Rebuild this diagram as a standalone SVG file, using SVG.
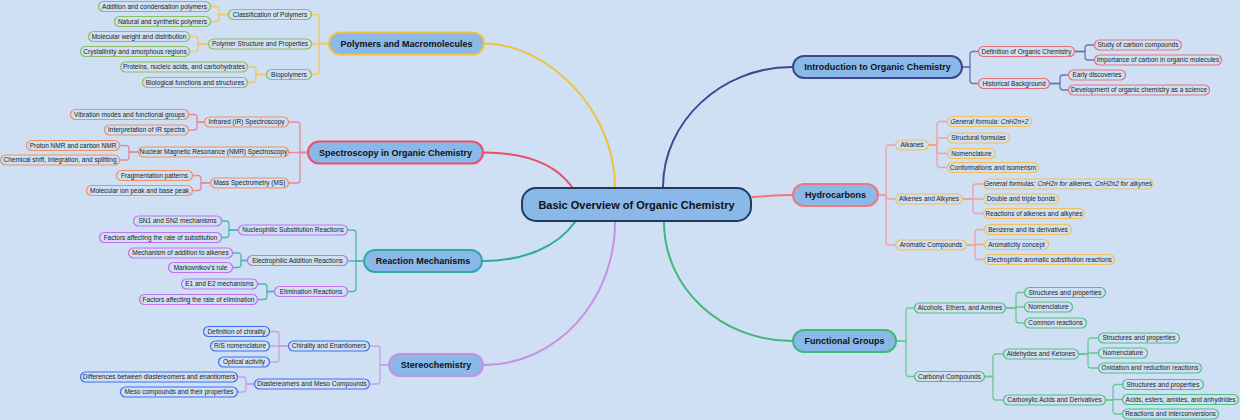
<svg xmlns="http://www.w3.org/2000/svg" width="1240" height="420" viewBox="0 0 1240 420">
<style>
.bg{fill:#cfe0f4}
.c0{fill:#8ab8e8;stroke:#1f3b5e;stroke-width:2}
.m{fill:#8ab8e8;stroke-width:2}
.s{fill:#cfe0f4;stroke-width:1.2}
.t0{font-family:"Liberation Sans",Arial,sans-serif;font-size:11px;font-weight:bold;fill:#111;text-anchor:middle}
.tm{font-family:"Liberation Sans",Arial,sans-serif;font-size:9px;font-weight:bold;fill:#111;text-anchor:middle}
.ts{font-family:"Liberation Sans",Arial,sans-serif;font-size:6.5px;fill:#222;text-anchor:middle}
.it{font-style:italic}
.l{fill:none;stroke-linecap:round}
.lm{stroke-width:2}
.lk{stroke-width:1.3}
.intro{stroke:#e8707a}.hydro{stroke:#f0c060}.fg{stroke:#50c080}.poly{stroke:#8cc060}.spec{stroke:#f09060}.reac{stroke:#c070f0}.ster{stroke:#3f6ff0}
</style>
<rect class="bg" x="0" y="0" width="1240" height="420"/>
<g id="connectors">
<path class="l lm" stroke="#3b4a8e" d="M663 187C663 122 721 67 792 67"/>
<path class="l lm" stroke="#f07878" d="M752 197C770 196 780 195 792 195"/>
<path class="l lm" stroke="#40b878" d="M664 222C664 288 721 341 792 341"/>
<path class="l lm" stroke="#f2c040" d="M615 187C615 108 545 43.5 485 43.5"/>
<path class="l lm" stroke="#e8506a" d="M572 187C555 163 525 152.5 484 152.5"/>
<path class="l lm" stroke="#30a8a8" d="M575 222C558 246 525 261 483 261"/>
<path class="l lm" stroke="#c890e0" d="M615 222C615 301 556 365 484 365"/>
<g class="l lk" stroke="#6b74b4">
<path d="M963 67H970V54.5Q970 51.5 973 51.5H978"/>
<path d="M963 67H970V80.5Q970 83.5 973 83.5H978"/>
<path d="M1075 51.5H1085V48Q1085 45 1088 45H1094"/>
<path d="M1075 51.5H1085V57Q1085 60 1088 60H1094"/>
<path d="M1050 83.5H1060V78Q1060 75 1063 75H1068"/>
<path d="M1050 83.5H1060V87Q1060 90 1063 90H1068"/>
</g>
<g class="l lk" stroke="#f4a0a0">
<path d="M879 195H886V148Q886 145 889 145H895"/>
<path d="M879 195H886V196Q886 199 889 199H895"/>
<path d="M879 195H886V242Q886 245 889 245H895"/>
<path d="M929 145H937V124.5Q937 121.5 940 121.5H947"/>
<path d="M929 145H937V141Q937 138 940 138H947"/>
<path d="M929 145H937V150.5Q937 153.5 940 153.5H947"/>
<path d="M929 145H937V164.5Q937 167.5 940 167.5H947"/>
<path d="M963 199H973V187Q973 184 976 184H983"/>
<path d="M963 199H983"/>
<path d="M963 199H973V210.5Q973 213.5 976 213.5H983"/>
<path d="M967 245H975V232.5Q975 229.5 978 229.5H984"/>
<path d="M967 245H975V244.5H984"/>
<path d="M967 245H975V256.5Q975 259.5 978 259.5H984"/>
</g>
<g class="l lk" stroke="#6cc894">
<path d="M897 341H906V311Q906 308 909 308H914"/>
<path d="M897 341H906V373.5Q906 376.5 909 376.5H914"/>
<path d="M1006 308H1016V295.5Q1016 292.5 1019 292.5H1024"/>
<path d="M1006 308H1016V307H1024"/>
<path d="M1006 308H1016V320Q1016 323 1019 323H1024"/>
<path d="M985 376.5H993V357Q993 354 996 354H1003"/>
<path d="M985 376.5H993V397Q993 400 996 400H1003"/>
<path d="M1079 354H1088V341Q1088 338 1091 338H1098"/>
<path d="M1079 354H1088V353H1098"/>
<path d="M1079 354H1088V365Q1088 368 1091 368H1098"/>
<path d="M1106 400H1113V387.5Q1113 384.5 1116 384.5H1122"/>
<path d="M1106 400H1113V399.5H1122"/>
<path d="M1106 400H1113V411Q1113 414 1116 414H1122"/>
</g>
<g class="l lk" stroke="#f2c860">
<path d="M328 43.5H319V17.5Q319 14.5 316 14.5H312"/>
<path d="M328 43.5H319V44H312"/>
<path d="M328 43.5H319V71.5Q319 74.5 316 74.5H312"/>
<path d="M228 14.5H219V9.5Q219 6.5 216 6.5H211"/>
<path d="M228 14.5H219V18.5Q219 21.5 216 21.5H211"/>
<path d="M208 44H198V39.5Q198 36.5 195 36.5H190"/>
<path d="M208 44H198V48.5Q198 51.5 195 51.5H190"/>
<path d="M266 74.5H256V70Q256 67 253 67H248"/>
<path d="M266 74.5H256V79.5Q256 82.5 253 82.5H248"/>
</g>
<g class="l lk" stroke="#e8889a">
<path d="M307 152.5H300V125Q300 122 297 122H289"/>
<path d="M307 152.5H289"/>
<path d="M307 152.5H300V180Q300 183 297 183H289"/>
<path d="M204 122H197V117.5Q197 114.5 194 114.5H189"/>
<path d="M204 122H197V127Q197 130 194 130H189"/>
<path d="M138 152H129V148.5Q129 145.5 126 145.5H120"/>
<path d="M138 152H129V157Q129 160 126 160H120"/>
<path d="M210 183H201V178.5Q201 175.5 198 175.5H193"/>
<path d="M210 183H201V187.5Q201 190.5 198 190.5H193"/>
</g>
<g class="l lk" stroke="#4db8b0">
<path d="M363 261H356V233Q356 230 353 230H348"/>
<path d="M363 261H348"/>
<path d="M363 261H356V288.5Q356 291.5 353 291.5H348"/>
<path d="M238 230H229V224Q229 221 226 221H222"/>
<path d="M238 230H229V234.5Q229 237.5 226 237.5H222"/>
<path d="M247 260.5H241V256Q241 253 238 253H233"/>
<path d="M247 260.5H241V264.5Q241 267.5 238 267.5H233"/>
<path d="M274 291.5H267V287Q267 284 264 284H258"/>
<path d="M274 291.5H267V296.5Q267 299.5 264 299.5H258"/>
</g>
<g class="l lk" stroke="#c8a0e0">
<path d="M388 365H380V349Q380 346 377 346H370"/>
<path d="M388 365H380V381Q380 384 377 384H370"/>
<path d="M288 346H279V334.5Q279 331.5 276 331.5H270"/>
<path d="M288 346H270"/>
<path d="M288 346H279V359Q279 362 276 362H270"/>
<path d="M254 384H246V380Q246 377 243 377H238"/>
<path d="M254 384H246V389Q246 392 243 392H238"/>
</g>
</g>
<g id="root"><rect class="c0" x="522" y="188" width="229" height="33" rx="14"/><text class="t0" x="636.5" y="208.5">Basic Overview of Organic Chemistry</text></g>
<g id="n-intro"><rect class="m" stroke="#3b4a8e" x="793" y="56" width="169" height="22" rx="11"/><text class="tm" x="877.5" y="70.2">Introduction to Organic Chemistry</text></g>
<g id="n-hydro"><rect class="m" stroke="#f07878" x="793" y="184" width="85" height="22" rx="11"/><text class="tm" x="835.5" y="198.2">Hydrocarbons</text></g>
<g id="n-fg"><rect class="m" stroke="#40b878" x="793" y="330" width="103" height="22" rx="11"/><text class="tm" x="844.5" y="344.2">Functional Groups</text></g>
<g id="n-poly"><rect class="m" stroke="#f2c040" x="329" y="32.5" width="155" height="22" rx="11"/><text class="tm" x="406.5" y="46.7">Polymers and Macromolecules</text></g>
<g id="n-spec"><rect class="m" stroke="#e8506a" x="308" y="141.5" width="175" height="22" rx="11"/><text class="tm" x="395.5" y="155.7">Spectroscopy in Organic Chemistry</text></g>
<g id="n-reac"><rect class="m" stroke="#30a8a8" x="364" y="250" width="118" height="22" rx="11"/><text class="tm" x="423" y="264.2">Reaction Mechanisms</text></g>
<g id="n-ster"><rect class="m" stroke="#c890e0" x="389" y="354" width="94" height="22" rx="11"/><text class="tm" x="436" y="368.2">Stereochemistry</text></g>
<g id="intro-def"><rect class="s intro" x="978.5" y="46.5" width="96" height="10" rx="5"/><text class="ts" x="1026.5" y="53.7">Definition of Organic Chemistry</text></g>
<g id="intro-hist"><rect class="s intro" x="978.5" y="78.5" width="71" height="10" rx="5"/><text class="ts" x="1014" y="85.7">Historical Background</text></g>
<g id="intro-def-1"><rect class="s intro" x="1094.5" y="40" width="87" height="10" rx="5"/><text class="ts" x="1138" y="47.2">Study of carbon compounds</text></g>
<g id="intro-def-2"><rect class="s intro" x="1094.5" y="55" width="127" height="10" rx="5"/><text class="ts" x="1158" y="62.2">Importance of carbon in organic molecules</text></g>
<g id="intro-hist-1"><rect class="s intro" x="1068.5" y="70" width="57" height="10" rx="5"/><text class="ts" x="1097" y="77.2">Early discoveries</text></g>
<g id="intro-hist-2"><rect class="s intro" x="1068.5" y="85" width="141" height="10" rx="5"/><text class="ts" x="1139" y="92.2">Development of organic chemistry as a science</text></g>
<g id="hydro-alkanes"><rect class="s hydro" x="895.5" y="140" width="33" height="10" rx="5"/><text class="ts" x="912" y="147.2">Alkanes</text></g>
<g id="hydro-alkenes"><rect class="s hydro" x="895.5" y="194" width="67" height="10" rx="5"/><text class="ts" x="929" y="201.2">Alkenes and Alkynes</text></g>
<g id="hydro-arom"><rect class="s hydro" x="895.5" y="240" width="71" height="10" rx="5"/><text class="ts" x="931" y="247.2">Aromatic Compounds</text></g>
<g id="hydro-alkanes-1"><rect class="s hydro" x="947.5" y="116.5" width="84" height="10" rx="5"/><text class="ts it" x="989.5" y="123.7">General formula: CnH2n+2</text></g>
<g id="hydro-alkanes-2"><rect class="s hydro" x="947.5" y="133" width="62" height="10" rx="5"/><text class="ts" x="978.5" y="140.2">Structural formulas</text></g>
<g id="hydro-alkanes-3"><rect class="s hydro" x="947.5" y="148.5" width="48" height="10" rx="5"/><text class="ts" x="971.5" y="155.7">Nomenclature</text></g>
<g id="hydro-alkanes-4"><rect class="s hydro" x="947.5" y="162.5" width="91" height="10" rx="5"/><text class="ts" x="993" y="169.7">Conformations and isomerism</text></g>
<g id="hydro-alkenes-1"><rect class="s hydro" x="983.5" y="179" width="169" height="10" rx="5"/><text class="ts it" x="1068" y="186.2">General formulas: CnH2n for alkenes, CnH2n2 for alkynes</text></g>
<g id="hydro-alkenes-2"><rect class="s hydro" x="983.5" y="194" width="75" height="10" rx="5"/><text class="ts" x="1021" y="201.2">Double and triple bonds</text></g>
<g id="hydro-alkenes-3"><rect class="s hydro" x="983.5" y="208.5" width="101" height="10" rx="5"/><text class="ts" x="1034" y="215.7">Reactions of alkenes and alkynes</text></g>
<g id="hydro-arom-1"><rect class="s hydro" x="984.5" y="224.5" width="87" height="10" rx="5"/><text class="ts" x="1028" y="231.7">Benzene and its derivatives</text></g>
<g id="hydro-arom-2"><rect class="s hydro" x="984.5" y="239.5" width="64" height="10" rx="5"/><text class="ts" x="1016.5" y="246.7">Aromaticity concept</text></g>
<g id="hydro-arom-3"><rect class="s hydro" x="984.5" y="254.5" width="130" height="10" rx="5"/><text class="ts" x="1049.5" y="261.7">Electrophilic aromatic substitution reactions</text></g>
<g id="fg-alc"><rect class="s fg" x="914.5" y="303" width="91" height="10" rx="5"/><text class="ts" x="960" y="310.2">Alcohols, Ethers, and Amines</text></g>
<g id="fg-carb"><rect class="s fg" x="914.5" y="371.5" width="70" height="10" rx="5"/><text class="ts" x="949.5" y="378.7">Carbonyl Compounds</text></g>
<g id="fg-alc-1"><rect class="s fg" x="1024.5" y="287.5" width="81" height="10" rx="5"/><text class="ts" x="1065" y="294.7">Structures and properties</text></g>
<g id="fg-alc-2"><rect class="s fg" x="1024.5" y="302" width="48" height="10" rx="5"/><text class="ts" x="1048.5" y="309.2">Nomenclature</text></g>
<g id="fg-alc-3"><rect class="s fg" x="1024.5" y="318" width="62" height="10" rx="5"/><text class="ts" x="1055.5" y="325.2">Common reactions</text></g>
<g id="fg-ald"><rect class="s fg" x="1003.5" y="349" width="75" height="10" rx="5"/><text class="ts" x="1041" y="356.2">Aldehydes and Ketones</text></g>
<g id="fg-acid"><rect class="s fg" x="1003.5" y="395" width="102" height="10" rx="5"/><text class="ts" x="1054.5" y="402.2">Carboxylic Acids and Derivatives</text></g>
<g id="fg-ald-1"><rect class="s fg" x="1098.5" y="333" width="81" height="10" rx="5"/><text class="ts" x="1139" y="340.2">Structures and properties</text></g>
<g id="fg-ald-2"><rect class="s fg" x="1098.5" y="348" width="49" height="10" rx="5"/><text class="ts" x="1123" y="355.2">Nomenclature</text></g>
<g id="fg-ald-3"><rect class="s fg" x="1098.5" y="363" width="103" height="10" rx="5"/><text class="ts" x="1150" y="370.2">Oxidation and reduction reactions</text></g>
<g id="fg-acid-1"><rect class="s fg" x="1122.5" y="379.5" width="81" height="10" rx="5"/><text class="ts" x="1163" y="386.7">Structures and properties</text></g>
<g id="fg-acid-2"><rect class="s fg" x="1122.5" y="394.5" width="116" height="10" rx="5"/><text class="ts" x="1180.5" y="401.7">Acids, esters, amides, and anhydrides</text></g>
<g id="fg-acid-3"><rect class="s fg" x="1122.5" y="409" width="96" height="10" rx="5"/><text class="ts" x="1170.5" y="416.2">Reactions and interconversions</text></g>
<g id="poly-class"><rect class="s poly" x="228.5" y="9.5" width="83" height="10" rx="5"/><text class="ts" x="270" y="16.7">Classification of Polymers</text></g>
<g id="poly-struct"><rect class="s poly" x="208.5" y="39" width="103" height="10" rx="5"/><text class="ts" x="260" y="46.2">Polymer Structure and Properties</text></g>
<g id="poly-bio"><rect class="s poly" x="266.5" y="69.5" width="45" height="10" rx="5"/><text class="ts" x="289" y="76.7">Biopolymers</text></g>
<g id="poly-class-1"><rect class="s poly" x="98.5" y="1.5" width="112" height="10" rx="5"/><text class="ts" x="154.5" y="8.7">Addition and condensation polymers</text></g>
<g id="poly-class-2"><rect class="s poly" x="114.5" y="16.5" width="96" height="10" rx="5"/><text class="ts" x="162.5" y="23.7">Natural and synthetic polymers</text></g>
<g id="poly-struct-1"><rect class="s poly" x="88.5" y="31.5" width="101" height="10" rx="5"/><text class="ts" x="139" y="38.7">Molecular weight and distribution</text></g>
<g id="poly-struct-2"><rect class="s poly" x="80.5" y="46.5" width="109" height="10" rx="5"/><text class="ts" x="135" y="53.7">Crystallinity and amorphous regions</text></g>
<g id="poly-bio-1"><rect class="s poly" x="120.5" y="62" width="127" height="10" rx="5"/><text class="ts" x="184" y="69.2">Proteins, nucleic acids, and carbohydrates</text></g>
<g id="poly-bio-2"><rect class="s poly" x="142.5" y="77.5" width="105" height="10" rx="5"/><text class="ts" x="195" y="84.7">Biological functions and structures</text></g>
<g id="spec-ir"><rect class="s spec" x="204.5" y="117" width="84" height="10" rx="5"/><text class="ts" x="246.5" y="124.2">Infrared (IR) Spectroscopy</text></g>
<g id="spec-nmr"><rect class="s spec" x="138.5" y="147" width="150" height="10" rx="5"/><text class="ts" x="213.5" y="154.2">Nuclear Magnetic Resonance (NMR) Spectroscopy</text></g>
<g id="spec-ms"><rect class="s spec" x="210.5" y="178" width="78" height="10" rx="5"/><text class="ts" x="249.5" y="185.2">Mass Spectrometry (MS)</text></g>
<g id="spec-ir-1"><rect class="s spec" x="70.5" y="109.5" width="118" height="10" rx="5"/><text class="ts" x="129.5" y="116.7">Vibration modes and functional groups</text></g>
<g id="spec-ir-2"><rect class="s spec" x="104.5" y="125" width="84" height="10" rx="5"/><text class="ts" x="146.5" y="132.2">Interpretation of IR spectra</text></g>
<g id="spec-nmr-1"><rect class="s spec" x="26.5" y="140.5" width="93" height="10" rx="5"/><text class="ts" x="73" y="147.7">Proton NMR and carbon NMR</text></g>
<g id="spec-nmr-2"><rect class="s spec" x="0.6" y="155" width="118.9" height="10" rx="5"/><text class="ts" x="60" y="162.2">Chemical shift, integration, and splitting</text></g>
<g id="spec-ms-1"><rect class="s spec" x="116.5" y="170.5" width="76" height="10" rx="5"/><text class="ts" x="154.5" y="177.7">Fragmentation patterns</text></g>
<g id="spec-ms-2"><rect class="s spec" x="86.5" y="185.5" width="106" height="10" rx="5"/><text class="ts" x="139.5" y="192.7">Molecular ion peak and base peak</text></g>
<g id="reac-nuc"><rect class="s reac" x="238.5" y="225" width="109" height="10" rx="5"/><text class="ts" x="293" y="232.2">Nucleophilic Substitution Reactions</text></g>
<g id="reac-elec"><rect class="s reac" x="247.5" y="255.5" width="100" height="10" rx="5"/><text class="ts" x="297.5" y="262.7">Electrophilic Addition Reactions</text></g>
<g id="reac-elim"><rect class="s reac" x="274.5" y="286.5" width="73" height="10" rx="5"/><text class="ts" x="311" y="293.7">Elimination Reactions</text></g>
<g id="reac-nuc-1"><rect class="s reac" x="133.5" y="216" width="88" height="10" rx="5"/><text class="ts" x="177.5" y="223.2">SN1 and SN2 mechanisms</text></g>
<g id="reac-nuc-2"><rect class="s reac" x="99.5" y="232.5" width="122" height="10" rx="5"/><text class="ts" x="160.5" y="239.7">Factors affecting the rate of substitution</text></g>
<g id="reac-elec-1"><rect class="s reac" x="128.5" y="248" width="104" height="10" rx="5"/><text class="ts" x="180.5" y="255.2">Mechanism of addition to alkenes</text></g>
<g id="reac-elec-2"><rect class="s reac" x="168.5" y="262.5" width="64" height="10" rx="5"/><text class="ts" x="200.5" y="269.7">Markovnikov's rule</text></g>
<g id="reac-elim-1"><rect class="s reac" x="181.5" y="279" width="76" height="10" rx="5"/><text class="ts" x="219.5" y="286.2">E1 and E2 mechanisms</text></g>
<g id="reac-elim-2"><rect class="s reac" x="139.5" y="294.5" width="118" height="10" rx="5"/><text class="ts" x="198.5" y="301.7">Factors affecting the rate of elimination</text></g>
<g id="ster-chir"><rect class="s ster" x="288.5" y="341" width="81" height="10" rx="5"/><text class="ts" x="329" y="348.2">Chirality and Enantiomers</text></g>
<g id="ster-dia"><rect class="s ster" x="254.5" y="379" width="115" height="10" rx="5"/><text class="ts" x="312" y="386.2">Diastereomers and Meso Compounds</text></g>
<g id="ster-chir-1"><rect class="s ster" x="203.5" y="326.5" width="66" height="10" rx="5"/><text class="ts" x="236.5" y="333.7">Definition of chirality</text></g>
<g id="ster-chir-2"><rect class="s ster" x="210.5" y="341" width="59" height="10" rx="5"/><text class="ts" x="240" y="348.2">R/S nomenclature</text></g>
<g id="ster-chir-3"><rect class="s ster" x="218.5" y="357" width="51" height="10" rx="5"/><text class="ts" x="244" y="364.2">Optical activity</text></g>
<g id="ster-dia-1"><rect class="s ster" x="80.5" y="372" width="157" height="10" rx="5"/><text class="ts" x="159" y="379.2">Differences between diastereomers and enantiomers</text></g>
<g id="ster-dia-2"><rect class="s ster" x="120.5" y="387" width="117" height="10" rx="5"/><text class="ts" x="179" y="394.2">Meso compounds and their properties</text></g>
</svg>
